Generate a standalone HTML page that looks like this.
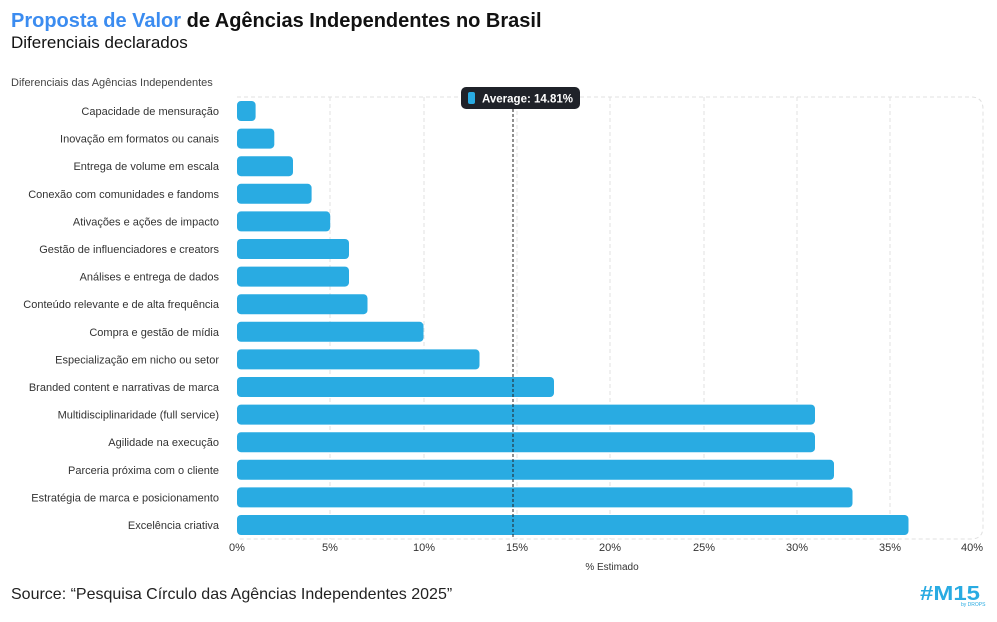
<!DOCTYPE html>
<html><head><meta charset="utf-8"><style>
body{margin:0;background:#fff;width:997px;height:617px;overflow:hidden;font-family:"Liberation Sans",sans-serif}
</style></head><body>
<svg width="997" height="617" xmlns="http://www.w3.org/2000/svg" font-family="Liberation Sans, sans-serif">
<text x="11" y="27" font-size="20" font-weight="bold" fill="#111"><tspan fill="#3b8cf0">Proposta de Valor</tspan> de Agências Independentes no Brasil</text>
<text x="11" y="48" font-size="17" fill="#111">Diferenciais declarados</text>
<text x="11" y="86" font-size="11" fill="#444">Diferenciais das Agências Independentes</text>
<g stroke="#e0e0e0" stroke-dasharray="4,3" fill="none">
<path d="M237 97 H971 Q983 97 983 109 V527 Q983 539 971 539 H237"/>
<line x1="330" y1="97" x2="330" y2="539"/><line x1="424" y1="97" x2="424" y2="539"/>
<line x1="517" y1="97" x2="517" y2="539"/><line x1="610" y1="97" x2="610" y2="539"/>
<line x1="704" y1="97" x2="704" y2="539"/><line x1="797" y1="97" x2="797" y2="539"/>
<line x1="890" y1="97" x2="890" y2="539"/>
</g>
<g fill="#29abe2">
<rect x="237" y="101" width="18.6" height="20" rx="4"/>
<rect x="237" y="128.6" width="37.3" height="20" rx="4"/>
<rect x="237" y="156.2" width="56" height="20" rx="4"/>
<rect x="237" y="183.8" width="74.6" height="20" rx="4"/>
<rect x="237" y="211.4" width="93.2" height="20" rx="4"/>
<rect x="237" y="239" width="112" height="20" rx="4"/>
<rect x="237" y="266.6" width="112" height="20" rx="4"/>
<rect x="237" y="294.2" width="130.5" height="20" rx="4"/>
<rect x="237" y="321.8" width="186.5" height="20" rx="4"/>
<rect x="237" y="349.4" width="242.5" height="20" rx="4"/>
<rect x="237" y="377" width="317" height="20" rx="4"/>
<rect x="237" y="404.6" width="578" height="20" rx="4"/>
<rect x="237" y="432.2" width="578" height="20" rx="4"/>
<rect x="237" y="459.8" width="597" height="20" rx="4"/>
<rect x="237" y="487.4" width="615.5" height="20" rx="4"/>
<rect x="237" y="515" width="671.5" height="20" rx="4"/>
</g>
<g font-size="11" fill="#333" text-anchor="end">
<text x="219" y="115">Capacidade de mensuração</text>
<text x="219" y="142.6">Inovação em formatos ou canais</text>
<text x="219" y="170.2">Entrega de volume em escala</text>
<text x="219" y="197.8">Conexão com comunidades e fandoms</text>
<text x="219" y="225.4">Ativações e ações de impacto</text>
<text x="219" y="253">Gestão de influenciadores e creators</text>
<text x="219" y="280.6">Análises e entrega de dados</text>
<text x="219" y="308.2">Conteúdo relevante e de alta frequência</text>
<text x="219" y="335.8">Compra e gestão de mídia</text>
<text x="219" y="363.4">Especialização em nicho ou setor</text>
<text x="219" y="391">Branded content e narrativas de marca</text>
<text x="219" y="418.6">Multidisciplinaridade (full service)</text>
<text x="219" y="446.2">Agilidade na execução</text>
<text x="219" y="473.8">Parceria próxima com o cliente</text>
<text x="219" y="501.4">Estratégia de marca e posicionamento</text>
<text x="219" y="529">Excelência criativa</text>
</g>
<g font-size="11" fill="#333" text-anchor="middle">
<text x="237" y="551">0%</text><text x="330" y="551">5%</text><text x="424" y="551">10%</text>
<text x="517" y="551">15%</text><text x="610" y="551">20%</text><text x="704" y="551">25%</text>
<text x="797" y="551">30%</text><text x="890" y="551">35%</text><text x="983" y="551" text-anchor="end">40%</text>
<text x="612" y="570" font-size="10">% Estimado</text>
</g>
<line x1="513" y1="109" x2="513" y2="539" stroke="#222" stroke-dasharray="3,2"/>
<rect x="461" y="87" width="119" height="22" rx="5" fill="#1f2229"/>
<rect x="468" y="92" width="7" height="12" rx="2" fill="#29abe2"/>
<text x="482" y="102.5" font-size="11.5" font-weight="bold" fill="#fff">Average: 14.81%</text>
<text x="11" y="599" font-size="16" fill="#222">Source: “Pesquisa Círculo das Agências Independentes 2025”</text>
<text x="920" y="600" font-size="20" font-weight="bold" fill="#29abe2" textLength="60" lengthAdjust="spacingAndGlyphs">#M15</text>
<text x="961" y="606" font-size="5" fill="#29abe2">by DROPS</text>
</svg>
</body></html>
